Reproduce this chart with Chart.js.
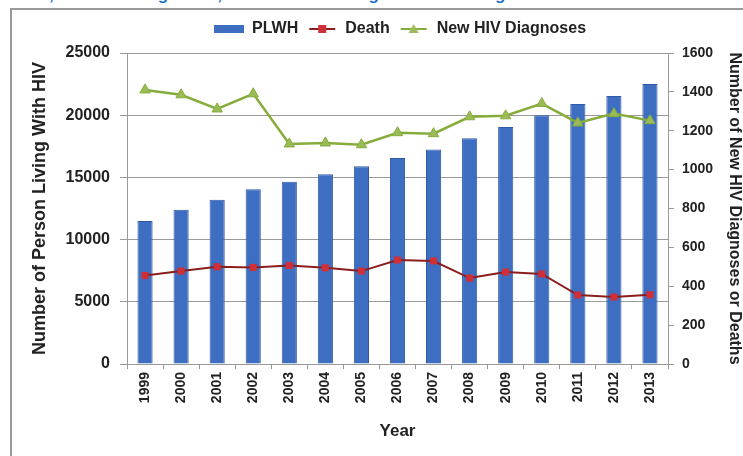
<!DOCTYPE html>
<html>
<head>
<meta charset="utf-8">
<script src="https://cdn.jsdelivr.net/npm/chart.js@4.4.0/dist/chart.umd.min.js"></script>
<style>
  html, body { margin: 0; padding: 0; background: #fff; }
  #wrap { position: relative; width: 743px; height: 456px; overflow: hidden; }
  #caption {
    position: absolute; left: 0; top: -15px; width: 743px; white-space: nowrap;
    font-family: "Liberation Sans", Arial, sans-serif; font-weight: bold; font-size: 17px;
    color: #1f6fd0; text-align: center;
  }
  #frame {
    position: absolute; left: 10px; top: 8px; width: 740px; height: 460px;
    border-left: 2px solid #9a9a9a; border-top: 2px solid #9a9a9a;
  }
  #chartBox { position: absolute; left: 12px; top: 10px; width: 734px; height: 446px; }
</style>
</head>
<body>
<div id="wrap">
  <div id="caption">PLWH, New HIV Diagnoses, and Deaths among Persons Living with HIV Infection in Louisiana, 1999-2013</div>
  <div id="frame"></div>
  <div id="chartBox"><canvas id="grafico"></canvas></div>
</div>
<script>
var anos = ['1999', '2000', '2001', '2002', '2003', '2004', '2005', '2006', '2007', '2008', '2009', '2010', '2011', '2012', '2013'];
var plwh = [11500, 12400, 13200, 14050, 14650, 15250, 15900, 16550, 17250, 18150, 19050, 20000, 20900, 21550, 22500];
var mortes = [455, 478, 500, 497, 507, 495, 478, 535, 530, 442, 473, 463, 355, 345, 356];
var novosDiag = [1410, 1385, 1312, 1390, 1132, 1137, 1128, 1190, 1185, 1272, 1277, 1340, 1240, 1288, 1252];
var ticksEsq = [0, 5000, 10000, 15000, 20000, 25000];
var ticksDir = [0, 200, 400, 600, 800, 1000, 1200, 1400, 1600];

var fonte = '"Liberation Sans", Arial, sans-serif';
var corBarra = '#3d6ec1', corMorteLinha = '#8c1d1d', corMorte = '#cf3038';
var corDiagLinha = '#86ad3c', corDiag = '#9bbb59';

// icones da legenda (linha + marcador)
function iconeLegenda(tipo) {
    var c = document.createElement('canvas');
    c.width = 30; c.height = 12;
    var g = c.getContext('2d');
    if (tipo === 'barra') {
        g.fillStyle = corBarra;
        g.fillRect(0, 2, 30, 8);
    } else if (tipo === 'morte') {
        g.strokeStyle = corMorteLinha; g.lineWidth = 2;
        g.beginPath(); g.moveTo(2, 6); g.lineTo(28, 6); g.stroke();
        g.fillStyle = corMorte; g.fillRect(11, 2, 8, 8);
    } else {
        g.strokeStyle = corDiagLinha; g.lineWidth = 2;
        g.beginPath(); g.moveTo(2, 6); g.lineTo(28, 6); g.stroke();
        g.fillStyle = corDiag;
        g.beginPath(); g.moveTo(15, 1); g.lineTo(20, 10); g.lineTo(10, 10); g.closePath(); g.fill();
    }
    return c;
}
var icones = { 'PLWH': iconeLegenda('barra'), 'Death': iconeLegenda('morte'), 'New HIV Diagnoses': iconeLegenda('diag') };

document.addEventListener("DOMContentLoaded", function () {
    var canvas = document.getElementById('grafico');
    var ctx = canvas.getContext('2d');
    new Chart(ctx, {
        data: {
            labels: anos,
            datasets: [{
                type: 'line',
                label: 'New HIV Diagnoses',
                data: novosDiag,
                yAxisID: 'y1',
                borderColor: corDiagLinha,
                backgroundColor: corDiag,
                borderWidth: 2.5,
                pointStyle: 'triangle',
                pointRadius: 6,
                pointBorderWidth: 1,
                pointBorderColor: corDiagLinha,
                order: 0
            }, {
                type: 'line',
                label: 'Death',
                data: mortes,
                yAxisID: 'y1',
                borderColor: corMorteLinha,
                backgroundColor: corMorte,
                borderWidth: 2,
                pointStyle: 'rect',
                pointRadius: 5,
                pointBorderWidth: 0,
                order: 1
            }, {
                type: 'bar',
                label: 'PLWH',
                data: plwh,
                yAxisID: 'y',
                backgroundColor: corBarra,
                borderColor: '#2f5aa6',
                borderWidth: 1,
                barPercentage: 0.42,
                categoryPercentage: 1,
                order: 2
            }]
        },
        options: {
            responsive: true,
            maintainAspectRatio: false,
            animation: false,
            layout: { padding: 0 },
            plugins: {
                legend: {
                    display: true,
                    position: 'top',
                    reverse: true,
                    labels: {
                        font: { family: fonte, size: 16, weight: 'bold' },
                        color: '#222',
                        usePointStyle: true,
                        pointStyleWidth: 30,
                        boxHeight: 12,
                        padding: 9,
                        generateLabels: function (chart) {
                            var itens = Chart.defaults.plugins.legend.labels.generateLabels(chart);
                            itens.forEach(function (it) {
                                it.pointStyle = icones[it.text];
                                it.lineWidth = 0;
                            });
                            return itens;
                        }
                    }
                },
                tooltip: { enabled: false }
            },
            scales: {
                x: {
                    offset: true,
                    afterFit: function (eixo) { eixo.height = 92; },
                    grid: { display: true, drawOnChartArea: false, offset: true, color: '#999', tickLength: 5 },
                    border: { color: '#999' },
                    ticks: {
                        font: { family: fonte, size: 14, weight: 'bold' },
                        color: '#222',
                        minRotation: 90,
                        maxRotation: 90,
                        padding: 3
                    },
                    title: {
                        display: true,
                        text: 'Year',
                        font: { family: fonte, size: 17, weight: 'bold' },
                        color: '#222',
                        padding: { top: 0, bottom: 14 }
                    }
                },
                y: {
                    position: 'left',
                    min: 0,
                    max: 25000,
                    afterFit: function (eixo) { eixo.width = 115; },
                    afterBuildTicks: function (eixo) {
                        eixo.ticks = ticksEsq.map(function (v) { return { value: v }; });
                    },
                    grid: { color: '#9a9a9a', tickLength: 7 },
                    border: { color: '#999' },
                    ticks: {
                        font: { family: fonte, size: 16, weight: 'bold' },
                        color: '#222',
                        padding: 10,
                        callback: function (v) { return String(v); }
                    },
                    title: {
                        display: true,
                        text: 'Number of Person Living With HIV',
                        font: { family: fonte, size: 18, weight: 'bold' },
                        color: '#222',
                        padding: { top: 17, bottom: 0 }
                    }
                },
                y1: {
                    position: 'right',
                    min: 0,
                    max: 1600,
                    afterFit: function (eixo) { eixo.width = 78; },
                    afterBuildTicks: function (eixo) {
                        eixo.ticks = ticksDir.map(function (v) { return { value: v }; });
                    },
                    grid: { drawOnChartArea: false, color: '#999', tickLength: 6 },
                    border: { color: '#999' },
                    ticks: {
                        font: { family: fonte, size: 14, weight: 'bold' },
                        color: '#222',
                        padding: 8,
                        callback: function (v) { return String(v); }
                    },
                    title: {
                        display: true,
                        text: 'Number of New HIV Diagnoses or Deaths',
                        font: { family: fonte, size: 16, weight: 'bold' },
                        color: '#222',
                        padding: { top: 2, bottom: 0 }
                    }
                }
            }
        },
        plugins: [{
            id: 'ajusteLegenda',
            afterInit: function (chart) {
                var fitOriginal = chart.legend.fit;
                chart.legend.fit = function () {
                    fitOriginal.call(this);
                    this.height = 43;
                };
                var drawOriginal = chart.legend.draw;
                chart.legend.draw = function () {
                    chart.ctx.save();
                    chart.ctx.translate(21, 2);
                    drawOriginal.call(this);
                    chart.ctx.restore();
                };
            }
        }]
    });
});
</script>
</body>
</html>
